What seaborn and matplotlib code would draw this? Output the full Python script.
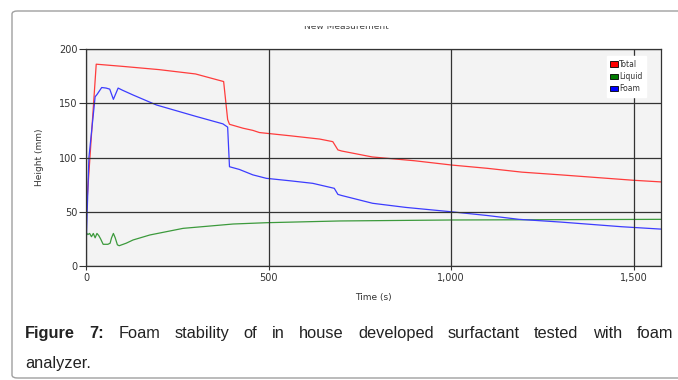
import matplotlib
matplotlib.use("Agg")
import matplotlib.pyplot as plt
import seaborn as sns
import pandas as pd
from matplotlib.patches import Rectangle, FancyBboxPatch
from matplotlib.transforms import Bbox, TransformedBbox
from matplotlib.ticker import FuncFormatter

# ---- data ----
total_t = [0, 28, 100, 200, 300, 377, 388, 393, 430, 457, 475, 560, 640, 676, 690, 700, 784, 900, 1003, 1100, 1194, 1300, 1400, 1500, 1575]
total_v = [46, 186, 184, 181, 177, 170, 135, 130.6, 127, 125, 123, 120, 117, 114.6, 107, 106, 100.5, 97, 93, 90, 86.5, 84, 81.5, 79, 77.5]

foam_t = [0, 8, 25, 30, 43, 55, 65, 75, 88, 100, 129, 193, 300, 375, 388, 393, 420, 457, 494, 560, 621, 680, 690, 700, 785, 876, 1000, 1100, 1186, 1300, 1467, 1575]
foam_v = [16, 100, 156, 158, 164.5, 164, 163, 153.6, 164, 162, 157.6, 148.4, 138, 131, 128, 91.5, 89, 84, 80.8, 78.5, 76.2, 71.6, 66, 65, 57.8, 54, 50, 46.5, 43, 40.5, 36.2, 34]

liquid_t = [0, 5, 10, 15, 20, 25, 30, 35, 40, 47, 60, 66, 70, 75, 80, 86, 91, 110, 129, 175, 266, 403, 494, 694, 1000, 1575]
liquid_v = [31, 29, 30, 27, 30, 26, 30, 28, 25, 20, 20, 21, 26, 30, 26, 19.5, 18.7, 21, 24, 28.6, 34.7, 38.7, 39.9, 41.5, 42.4, 43]

series_names = ["Total", "Liquid", "Foam"]
line_colors = ["#ff3c3c", "#3c9a3c", "#3c3cff"]
legend_colors = ["#ff0000", "#007a00", "#0000ff"]
x_ticks = [0, 500, 1000, 1500]
y_ticks = [0, 50, 100, 150, 200]

caption_bold = ["Figure", "7:"]
caption_line1 = ["Foam", "stability", "of", "in", "house", "developed", "surfactant", "tested", "with", "foam"]
caption_line2 = "analyzer."

df = pd.concat([
    pd.DataFrame({"Time": total_t, "Height": total_v, "Series": "Total"}),
    pd.DataFrame({"Time": liquid_t, "Height": liquid_v, "Series": "Liquid"}),
    pd.DataFrame({"Time": foam_t, "Height": foam_v, "Series": "Foam"}),
], ignore_index=True)

sns.set_theme(style="white")
plt.rcParams["font.family"] = ["DejaVu Sans"]

W, H = 678, 380
fig = plt.figure(figsize=(W / 100, H / 100), dpi=100)
fig.patch.set_facecolor("white")

def fx(px):
    return px / W

def fy(py):
    return 1 - py / H

# outer rounded frame
frame = FancyBboxPatch((fx(12), fy(378)), fx(720) - fx(12), fy(11) - fy(378),
                       boxstyle="round,pad=0,rounding_size=0.008",
                       transform=fig.transFigure, facecolor="none",
                       edgecolor="#a0a0a0", lw=1.0, clip_on=False)
fig.patches.append(frame)

ax = fig.add_axes([fx(86), fy(266), fx(661) - fx(86), fy(49) - fy(266)])
ax.set_facecolor("#f3f3f3")

sns.lineplot(data=df, x="Time", y="Height", hue="Series", hue_order=series_names,
             palette=dict(zip(series_names, line_colors)), sort=False,
             estimator=None, lw=0.9, ax=ax, legend=False)

ax.set_xlim(0, 1575)
ax.set_ylim(0, 200)
ax.set_xticks(x_ticks)
ax.set_yticks(y_ticks)
ax.xaxis.set_major_formatter(FuncFormatter(lambda v, p: f"{int(v):,}"))
ax.grid(True, color="#333333", lw=0.9)
ax.set_axisbelow(False)
for s in ax.spines.values():
    s.set_color("#333333")
    s.set_linewidth(0.9)
ax.tick_params(axis="y", which="major", length=5, width=0.8, color="#333333",
               labelsize=7, labelcolor="#333333", pad=1, left=True)
ax.tick_params(axis="x", which="major", length=3, width=0.8, color="#333333",
               labelsize=7, labelcolor="#333333", pad=2, bottom=True)
ax.set_xlabel("Time (s)", fontsize=6.5, color="#333333", labelpad=7)
ax.set_ylabel("Height (mm)", fontsize=6.5, color="#333333", labelpad=11)

# legend
handles = [Rectangle((0, 0), 1, 1, facecolor=c, edgecolor="black", lw=0.6) for c in legend_colors]
leg = ax.legend(handles, series_names, loc="upper right", bbox_to_anchor=(0.974, 0.967),
                fontsize=5.5, frameon=True, fancybox=False, framealpha=1,
                edgecolor="white", facecolor="white", handlelength=1.0, handleheight=0.7,
                handletextpad=0.15, labelspacing=0.45, borderpad=0.45, borderaxespad=0)
for t in leg.get_texts():
    t.set_color("#333333")

# clipped title
title = fig.text(fx(346), fy(26.5), "New Measurement", ha="center", va="center",
                 fontsize=6.5, color="#444444")
title.set_clip_box(TransformedBbox(Bbox([[0, 0], [1, fy(25.5)]]), fig.transFigure))
title.set_clip_on(True)

# caption, justified first line
fig.canvas.draw()
renderer = fig.canvas.get_renderer()
cap_font = dict(fontsize=11.8, family="Liberation Sans", color="#222222")
words = [(w, "bold") for w in caption_bold] + [(w, "normal") for w in caption_line1]
texts = []
for w, wt in words:
    t = fig.text(0, fy(338), w, ha="left", va="baseline", fontweight=wt, **cap_font)
    texts.append(t)
widths = [t.get_window_extent(renderer).width for t in texts]
left, right = 25, 673
gap = (right - left - sum(widths)) / (len(texts) - 1)
x = left
for t, wdt in zip(texts, widths):
    t.set_x(fx(x))
    x += wdt + gap
fig.text(fx(left), fy(368), caption_line2, ha="left", va="baseline", **cap_font)

fig.savefig("out.png", dpi=100)
